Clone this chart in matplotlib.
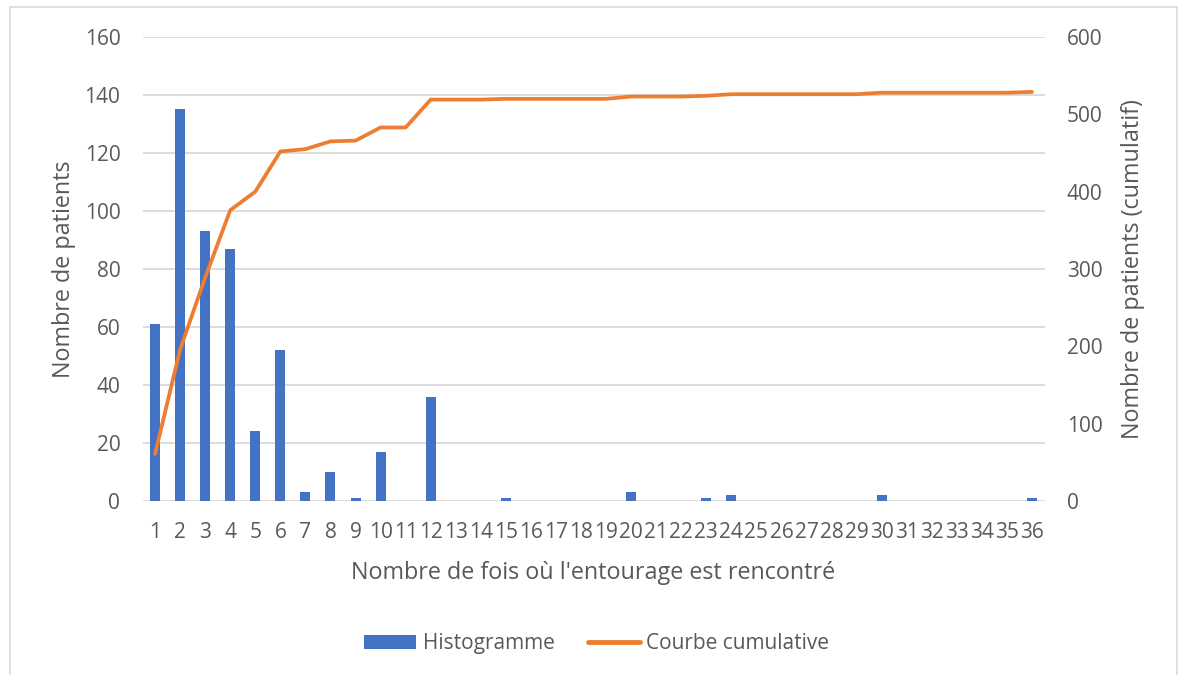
import numpy as np
import matplotlib.pyplot as plt
from matplotlib.patches import Patch, Rectangle
from matplotlib.lines import Line2D

plt.rcParams['font.family'] = ['Open Sans', 'DejaVu Sans']

# Données
fois = list(range(1, 37))
patients = [61, 135, 93, 87, 24, 52, 3, 10, 1, 17, 0, 36,
            0, 0, 1, 0, 0, 0, 0, 3, 0, 0, 1, 2,
            0, 0, 0, 0, 0, 2, 0, 0, 0, 0, 0, 1]
cumul = np.cumsum(patients)

BLEU = '#4472C4'
ORANGE = '#ED7D31'
GRIS = '#595959'
GRILLE = '#D9D9D9'

fig = plt.figure(figsize=(11.84, 6.75), dpi=100)
ax1 = fig.add_axes([0.1204, 0.2578, 0.7618, 0.6874])
ax2 = ax1.twinx()

# cadre du graphique
fig.patches.append(Rectangle((10 / 1184, -0.05), 1167 / 1184, 1 - 7 / 675 + 0.05,
                             transform=fig.transFigure, fill=False,
                             edgecolor=GRILLE, linewidth=1.2))

ax1.bar(fois, patients, width=0.4, color=BLEU, zorder=3)
ax2.plot(fois, cumul, color=ORANGE, linewidth=2.7, solid_capstyle='round', zorder=4)

ax1.set_xlim(0.5, 36.5)
ax1.set_ylim(0, 160)
ax2.set_ylim(0, 600)
ax1.set_yticks(range(0, 161, 20))
ax2.set_yticks(range(0, 601, 100))
ax1.set_xticks(fois)
ax1.set_xticklabels([str(f) for f in fois])

ax1.grid(axis='y', color=GRILLE, linewidth=1.3, zorder=0)
ax1.set_axisbelow(True)
for ax in (ax1, ax2):
    for s in ax.spines.values():
        s.set_visible(False)
    ax.tick_params(length=0, labelsize=15, labelcolor=GRIS)
ax1.tick_params(axis='y', pad=16)
ax1.tick_params(axis='x', pad=15)
ax2.tick_params(axis='y', pad=16)

ax1.set_ylabel('Nombre de patients', fontsize=16.8, color=GRIS, labelpad=6)
ax2.set_ylabel('Nombre de patients (cumulatif)', fontsize=16.8, color=GRIS, labelpad=13)
ax1.set_xlabel("Nombre de fois où l'entourage est rencontré", fontsize=16.8, color=GRIS, labelpad=13)

handles = [Patch(facecolor=BLEU, edgecolor='none'),
           Line2D([0], [0], color=ORANGE, linewidth=3.5, solid_capstyle='round')]
leg = fig.legend(handles, ['Histogramme', 'Courbe cumulative'], loc='center',
                 bbox_to_anchor=(0.504, 0.046), ncol=2, frameon=False,
                 fontsize=15, handlelength=2.5, handleheight=0.65,
                 columnspacing=1.6, handletextpad=0.3)
for t in leg.get_texts():
    t.set_color(GRIS)

fig.savefig('out.png', dpi=100)
